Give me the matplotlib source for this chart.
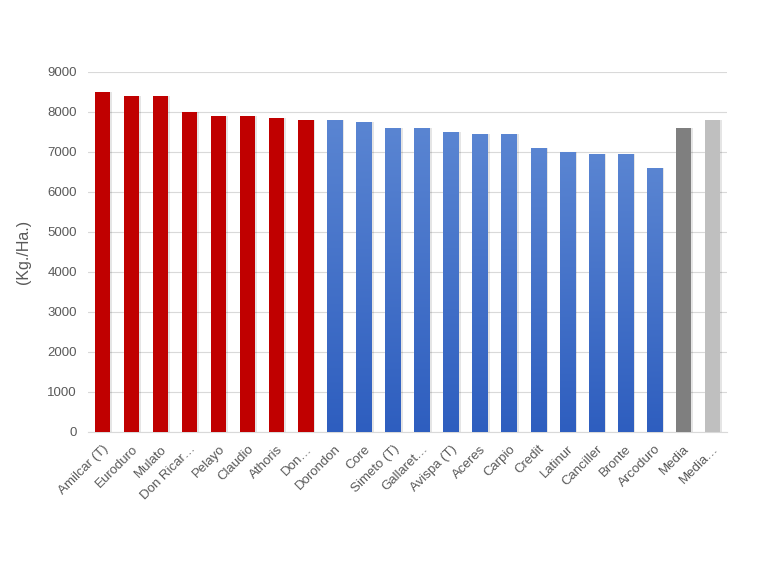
import numpy as np
import matplotlib
matplotlib.use('Agg')
import matplotlib.pyplot as plt

plt.rcParams['font.family'] = ['Liberation Sans', 'DejaVu Sans']

# variedades y rendimiento (Kg./Ha.)
VARIEDADES = ['Amilcar (T)', 'Euroduro', 'Mulato', 'Don Ricar…', 'Pelayo', 'Claudio',
              'Athoris', 'Don…', 'Dorondon', 'Core', 'Simeto (T)', 'Gallaret…',
              'Avispa (T)', 'Aceres', 'Carpio', 'Credit', 'Latinur', 'Canciller',
              'Bronte', 'Arcoduro', 'Media', 'Media…']
RENDIMIENTO = [8500, 8400, 8400, 8000, 7900, 7900, 7850, 7800, 7800, 7750, 7600, 7600,
               7500, 7450, 7450, 7100, 7000, 6950, 6950, 6600, 7600, 7800]
GRUPO = ['r'] * 8 + ['b'] * 12 + ['m', 'm2']
COLORES = {'r': '#C00000', 'b': '#4A76C9', 'm': '#7F7F7F', 'm2': '#BFBFBF'}
YTICKS = [0, 1000, 2000, 3000, 4000, 5000, 6000, 7000, 8000, 9000]

TXT = '#595959'

fig = plt.figure(figsize=(7.68, 5.76), dpi=100)
ax = fig.add_axes([0.1146, 0.25, 0.832, 0.625])

x = np.arange(len(VARIEDADES))
cols = [COLORES[g] for g in GRUPO]
# sombra ligera
ax.bar(x + 0.05, RENDIMIENTO, width=0.56, color='#000000', alpha=0.10, zorder=2)
bars = ax.bar(x, RENDIMIENTO, width=0.53, color=cols, zorder=3)

# degradado en las barras azules
grad = np.linspace(0, 1, 256).reshape(-1, 1)
cmap = matplotlib.colors.LinearSegmentedColormap.from_list('azul', ['#2E5EBF', '#5A85D2'])
for b, g in zip(bars, GRUPO):
    if g != 'b':
        continue
    x0, w, h = b.get_x(), b.get_width(), b.get_height()
    b.set_facecolor('none')
    ax.imshow(grad, cmap=cmap, aspect='auto', origin='lower',
              extent=[x0, x0 + w, 0, h], zorder=3)

ax.set_xlim(-0.5, len(VARIEDADES) - 0.5)
ax.set_ylim(0, 9000)
ax.set_yticks(YTICKS)
ax.set_yticklabels([str(v) for v in YTICKS], color=TXT, fontsize=9.5)
ax.set_xticks(x)
ax.set_xticklabels(VARIEDADES, rotation=45, ha='right', rotation_mode='anchor',
                   color=TXT, fontsize=9.5)
ax.tick_params(axis='y', length=0, pad=8)
ax.tick_params(axis='x', length=0, pad=8)
ax.grid(axis='y', color='#D9D9D9', linewidth=0.8, zorder=0)
for s in ['top', 'right', 'left']:
    ax.spines[s].set_visible(False)
ax.spines['bottom'].set_color('#D9D9D9')
ax.set_ylabel('(Kg./Ha.)', color=TXT, fontsize=11.5, labelpad=12)

fig.savefig('out.png', dpi=100)
